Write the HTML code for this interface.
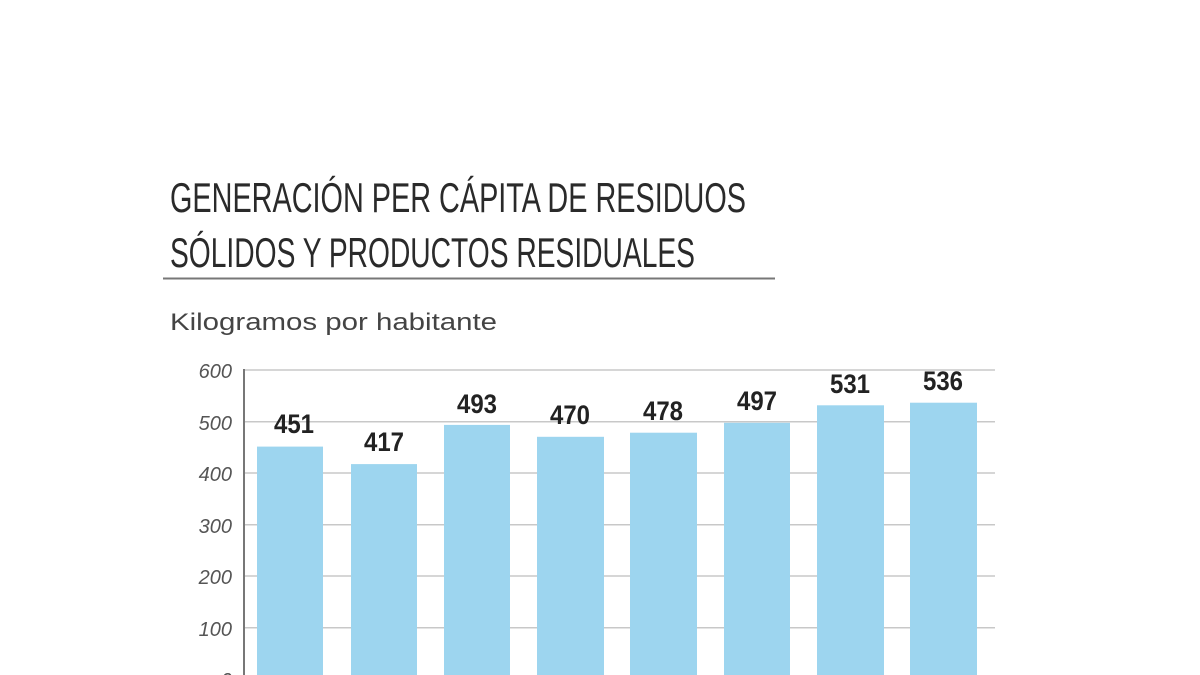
<!DOCTYPE html>
<html><head><meta charset="utf-8"><style>html,body{margin:0;padding:0;background:#fff}svg{display:block}</style></head>
<body>
<svg width="1200" height="675" xmlns="http://www.w3.org/2000/svg">
<g font-family="'Liberation Sans Narrow','Liberation Sans',sans-serif" fill="#2a2a2a">
<text x="170" y="212" font-size="42" textLength="576" lengthAdjust="spacingAndGlyphs">GENERACIÓN PER CÁPITA DE RESIDUOS</text>
<text x="170" y="267" font-size="42" textLength="525" lengthAdjust="spacingAndGlyphs">SÓLIDOS Y PRODUCTOS RESIDUALES</text>
</g>
<line x1="163" y1="278.5" x2="775" y2="278.5" stroke="#777" stroke-width="2"/>
<text x="170" y="330" font-family="'Liberation Sans',sans-serif" font-size="24" fill="#444" textLength="327" lengthAdjust="spacingAndGlyphs">Kilogramos por habitante</text>
<g stroke="#c8c8c8" stroke-width="1.5">
<line x1="243" y1="370" x2="995" y2="370"/>
<line x1="243" y1="421.7" x2="995" y2="421.7"/>
<line x1="243" y1="473" x2="995" y2="473"/>
<line x1="243" y1="524.7" x2="995" y2="524.7"/>
<line x1="243" y1="576" x2="995" y2="576"/>
<line x1="243" y1="627.7" x2="995" y2="627.7"/>
</g>
<g font-family="'Liberation Sans',sans-serif" font-style="italic" font-size="20" fill="#555" text-anchor="end">
<text x="232" y="378">600</text><text x="232" y="430">500</text><text x="232" y="481">400</text>
<text x="232" y="533">300</text><text x="232" y="584">200</text><text x="232" y="636">100</text>
<text x="232" y="687">0</text>
</g>
<line x1="244" y1="369" x2="244" y2="675" stroke="#777" stroke-width="2"/>
<g fill="#9dd5ef">
<rect x="257" y="446.6" width="66" height="240"/>
<rect x="351" y="464.1" width="66" height="240"/>
<rect x="444" y="424.9" width="66" height="260"/>
<rect x="537" y="436.8" width="67" height="260"/>
<rect x="630" y="432.7" width="67" height="260"/>
<rect x="724" y="422.8" width="66" height="260"/>
<rect x="817" y="405.3" width="67" height="280"/>
<rect x="910" y="402.7" width="67" height="280"/>
</g>
<g font-family="'Liberation Sans Narrow','Liberation Sans',sans-serif" font-weight="bold" font-size="27" fill="#222" text-anchor="middle">
<text x="294" y="433" textLength="40" lengthAdjust="spacingAndGlyphs">451</text>
<text x="384" y="451" textLength="40" lengthAdjust="spacingAndGlyphs">417</text>
<text x="477" y="413" textLength="40" lengthAdjust="spacingAndGlyphs">493</text>
<text x="570" y="424" textLength="40" lengthAdjust="spacingAndGlyphs">470</text>
<text x="663" y="420" textLength="40" lengthAdjust="spacingAndGlyphs">478</text>
<text x="757" y="410" textLength="40" lengthAdjust="spacingAndGlyphs">497</text>
<text x="850" y="393" textLength="40" lengthAdjust="spacingAndGlyphs">531</text>
<text x="943" y="390" textLength="40" lengthAdjust="spacingAndGlyphs">536</text>
</g>
</svg>
</body></html>
